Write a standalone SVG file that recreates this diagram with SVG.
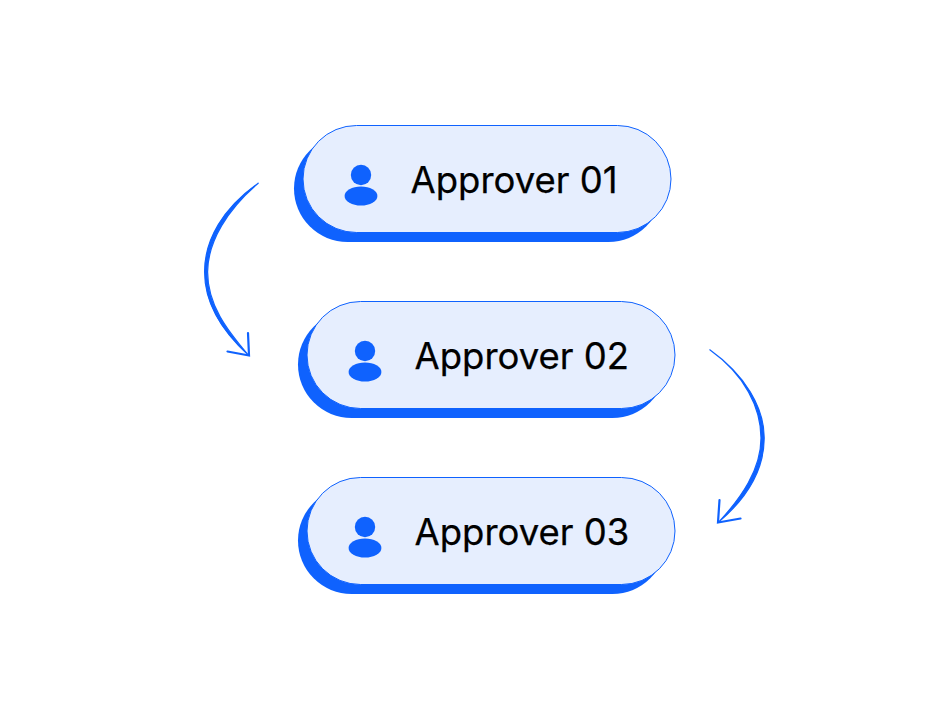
<svg xmlns="http://www.w3.org/2000/svg" width="948" height="710" viewBox="0 0 948 710">
  <style>
    .shadow { fill: #0f62fe; }
    .pill { fill: #e6eefe; stroke: #0f62fe; stroke-width: 1; }
    .icon { fill: #0f62fe; }
    .label { font-family: Inter, "Liberation Sans", sans-serif; font-size: 36.5px; font-weight: 400; fill: #000; stroke: #000; stroke-width: 0.25; }
    .curve { fill: #0f62fe; stroke: #0f62fe; stroke-width: 1.2; stroke-linejoin: round; }
    .head { fill: none; stroke: #0f62fe; stroke-width: 2.2; stroke-linecap: round; stroke-linejoin: miter; }
  </style>
  <defs>
    <g id="person">
      <circle cx="0" cy="-10" r="10.2"/>
      <ellipse cx="0" cy="11" rx="16.4" ry="9.6"/>
    </g>
  </defs>
  <rect width="948" height="710" fill="#fff"/>
  <g id="connectors">
    <path class="curve" d="M258.2 183.2 C223 208 204.4 240 204.6 272 C204.6 305 223 332 248.6 355.4 C227 330 207.6 305 207.6 272 C207.8 241 228 209 258.2 183.2 Z"/>
    <path class="head" d="M248 333 L249 355.5 L227.5 351.5"/>
    <path class="curve" d="M709.8 349.8 C745 375 761 408 761 438 C761 470 741 498 718.4 522.4 C747 498 764.2 470 764.2 438 C764.2 407 745 375 709.8 349.8 Z"/>
    <path class="head" d="M719.5 500 L718 522.5 L740.5 518.5"/>
  </g>
  <g id="node-1">
    <rect class="shadow" x="294" y="135" width="368" height="107" rx="53.5"/>
    <rect class="pill" x="303" y="125.5" width="368" height="107" rx="53.5"/>
    <use href="#person" class="icon" x="361" y="185"/>
    <text class="label" x="410.5" y="193">Approver 01</text>
  </g>
  <g id="node-2">
    <rect class="shadow" x="298" y="311" width="368" height="107" rx="53.5"/>
    <rect class="pill" x="307" y="301.5" width="368" height="107" rx="53.5"/>
    <use href="#person" class="icon" x="365" y="361"/>
    <text class="label" x="414.5" y="369">Approver 02</text>
  </g>
  <g id="node-3">
    <rect class="shadow" x="298" y="487" width="368" height="107" rx="53.5"/>
    <rect class="pill" x="307" y="477.5" width="368" height="107" rx="53.5"/>
    <use href="#person" class="icon" x="365" y="537"/>
    <text class="label" x="414.5" y="545">Approver 03</text>
  </g>
</svg>
